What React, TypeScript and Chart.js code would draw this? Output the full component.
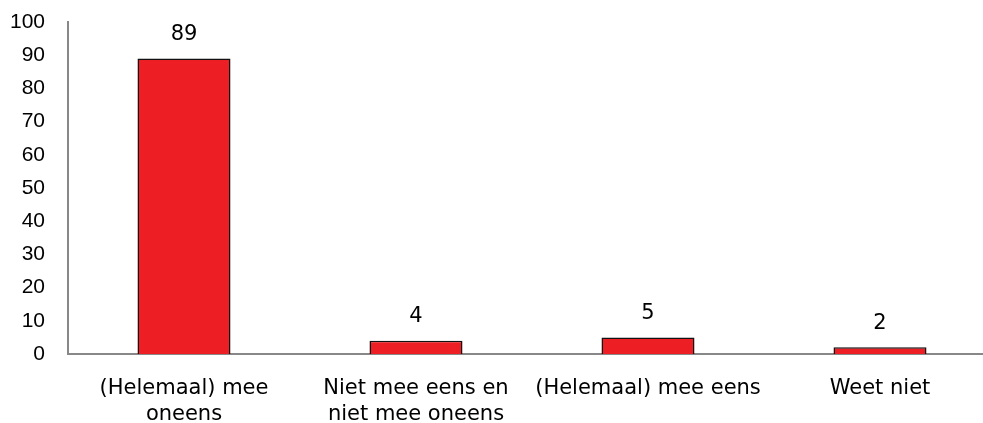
import React, { useEffect, useRef } from "react";
import { Chart, registerables } from "chart.js";

Chart.register(...registerables);

const categories: string[][] = [
  ["(Helemaal) mee", "oneens"],
  ["Niet mee eens en", "niet mee oneens"],
  ["(Helemaal) mee eens"],
  ["Weet niet"],
];
const values: number[] = [89, 4, 5, 2];
const yTicks: number[] = [0, 10, 20, 30, 40, 50, 60, 70, 80, 90, 100];

const valueLabelPlugin = {
  id: "valueLabels",
  afterDatasetsDraw(chart: any) {
    const ctx = chart.ctx;
    const meta = chart.getDatasetMeta(0);
    ctx.save();
    ctx.font = "21px 'DejaVu Sans'";
    ctx.fillStyle = "#000";
    ctx.textAlign = "center";
    ctx.textBaseline = "middle";
    meta.data.forEach((el: any, i: number) => {
      ctx.fillText(String(values[i]), el.x, el.y - 24);
    });
    ctx.restore();
  },
};

export default function App() {
  const ref = useRef<HTMLCanvasElement>(null);
  useEffect(() => {
    if (!ref.current) return;
    const chart = new Chart(ref.current, {
      type: "bar",
      data: {
        labels: categories,
        datasets: [
          {
            data: values,
            backgroundColor: "#ED1F24",
            borderColor: "#111111",
            borderWidth: 1.5,
            categoryPercentage: 1,
            barPercentage: 0.401,
          },
        ],
      },
      options: {
        animation: false,
        responsive: false,
        maintainAspectRatio: false,
        layout: { padding: { top: 22, left: 0, right: 0, bottom: 0 } },
        plugins: {
          legend: { display: false },
          tooltip: { enabled: false },
        },
        scales: {
          x: {
            grid: { display: false, drawTicks: false },
            border: { display: true, color: "#888888", width: 2 },
            ticks: {
              color: "#000",
              padding: 21,
              maxRotation: 0,
              autoSkip: false,
              font: { family: "'DejaVu Sans'", size: 21, lineHeight: 1.25 },
            },
            afterFit: (s: any) => {
              s.height = 69;
              s.paddingLeft = 0;
              s.paddingRight = 0;
            },
          },
          y: {
            min: 0,
            max: 100,
            afterBuildTicks: (s: any) => {
              s.ticks = yTicks.map((v) => ({ value: v }));
            },
            grid: { display: false, drawTicks: false },
            border: { display: true, color: "#888888", width: 2 },
            ticks: {
              color: "#000",
              padding: 23,
              font: { family: "'Liberation Sans'", size: 21 },
            },
            afterFit: (s: any) => {
              s.width = 68;
              s.paddingTop = 0;
              s.paddingBottom = 0;
            },
          },
        },
      },
      plugins: [valueLabelPlugin],
    });
    return () => chart.destroy();
  }, []);
  return (
    <div
      style={{
        position: "absolute",
        left: 0,
        top: 0,
        width: 983,
        height: 423,
        overflow: "hidden",
        background: "#fff",
      }}
    >
      <canvas ref={ref} width={996} height={423} style={{ width: 996, height: 423 }} />
    </div>
  );
}
